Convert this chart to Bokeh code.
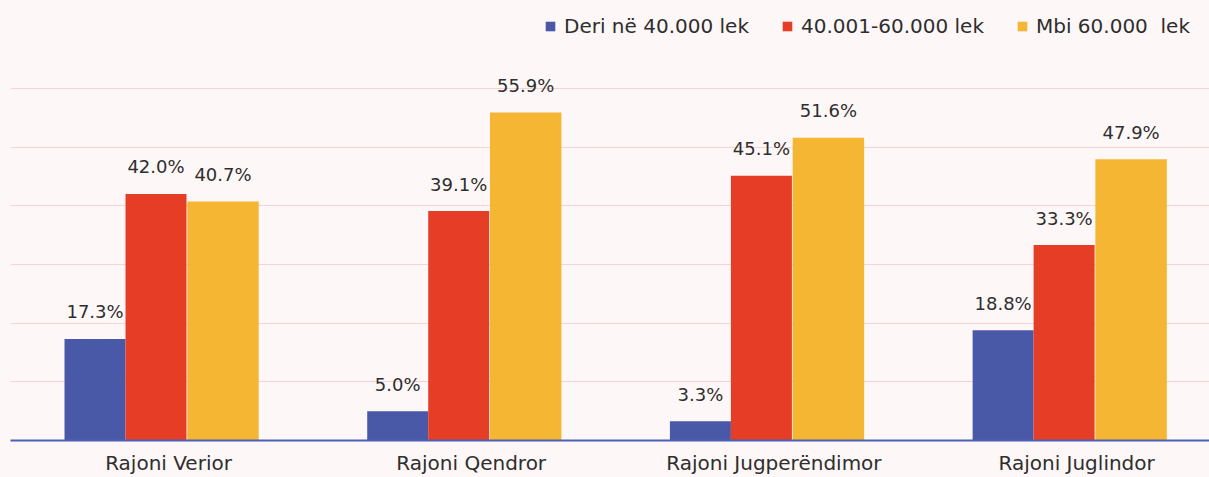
from bokeh.plotting import figure
from bokeh.models import ColumnDataSource, FixedTicker, Legend, LegendItem, Range1d
from bokeh.core.properties import value
from bokeh.embed import file_html
from bokeh.resources import INLINE

categories = ["Rajoni Verior", "Rajoni Qendror", "Rajoni Jugperëndimor", "Rajoni Juglindor"]
series_names = ["Deri në 40.000 lek", "40.001-60.000 lek", "Mbi 60.000  lek"]
deri_40 = [17.3, 5.0, 3.3, 18.8]
mes_40_60 = [42.0, 39.1, 45.1, 33.3]
mbi_60 = [40.7, 55.9, 51.6, 47.9]
grid_ticks = [0, 10, 20, 30, 40, 50, 60]

colors = ["#4959a8", "#e63e26", "#f5b634"]
offsets = [-0.2428, -0.0413, 0.180]
widths = [0.2015, 0.2015, 0.236]
series_values = [deri_40, mes_40_60, mbi_60]

BG = "#fdf7f7"
FONT = "DejaVu Sans"
TEXT = "#2e2e2e"

p = figure(width=1209, height=477, output_backend="svg", toolbar_location=None,
           x_range=Range1d(-0.522, 3.439), y_range=Range1d(0, 73.6),
           min_border_left=10, min_border_right=0, min_border_top=8, min_border_bottom=37)
p.background_fill_color = BG
p.border_fill_color = BG
p.outline_line_color = None

idx = list(range(len(categories)))
renderers = []
for vals, off, w, c in zip(series_values, offsets, widths, colors):
    xs = [i + off for i in idx]
    src = ColumnDataSource(dict(x=xs, top=vals, lab=[f"{v:.1f}%" for v in vals]))
    r = p.vbar(x="x", top="top", width=w, bottom=0, source=src, fill_color=c,
               line_color=None)
    renderers.append(r)
    p.text(x="x", y="top", text="lab", source=src, text_align="center",
           text_baseline="alphabetic", y_offset=-27, text_font=value(FONT),
           text_font_size="18px", text_color=TEXT)

# legends: one per item, placed individually
legend_lefts = [534, 771, 1006]
for name, r, lx in zip(series_names, renderers, legend_lefts):
    lg = Legend(items=[LegendItem(label=name, renderers=[r])], location=(lx, 402),
                orientation="horizontal", glyph_width=12, glyph_height=12,
                label_standoff=8, padding=0, margin=0, spacing=0,
                border_line_color=None, background_fill_alpha=0,
                label_text_font=FONT, label_text_font_size="20px",
                label_text_color=TEXT, label_height=12)
    p.add_layout(lg, "center")

xa = p.xaxis[0]
xa.ticker = FixedTicker(ticks=idx)
xa.major_label_overrides = {i: c for i, c in zip(idx, categories)}
xa.major_tick_line_color = None
xa.minor_tick_line_color = None
xa.major_tick_out = 0
xa.major_tick_in = 0
xa.major_label_standoff = 10
xa.major_label_text_font = FONT
xa.major_label_text_font_size = "20px"
xa.major_label_text_color = TEXT
xa.axis_line_color = "#4e5fb8"
xa.axis_line_width = 2

ya = p.yaxis[0]
ya.visible = False
p.xgrid.visible = False
p.ygrid.ticker = FixedTicker(ticks=grid_ticks)
p.ygrid.grid_line_color = "#f8d2d4"
p.ygrid.grid_line_width = 1

html = file_html(p, INLINE)
html = html.replace("<body>", '<body style="background-color:#fdf7f7;">')
open("out.html", "w").write(html)
